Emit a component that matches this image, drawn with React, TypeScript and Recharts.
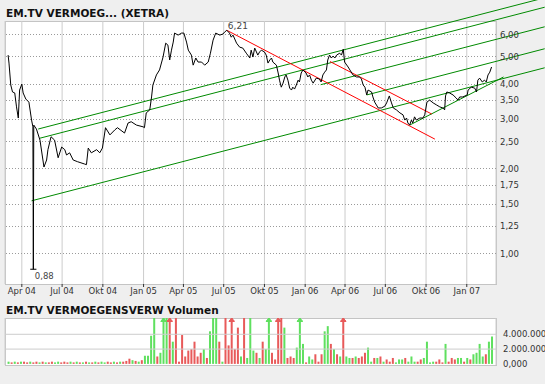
import React from 'react'
import { ComposedChart, Line, Bar, XAxis, YAxis, CartesianGrid, ReferenceLine, ReferenceDot } from 'recharts'

// closing prices, EM.TV (XETRA)
const closeDates = [
  '2004-03-01','2004-03-03','2004-03-07','2004-03-11','2004-03-16','2004-03-20','2004-03-24','2004-03-27','2004-04-01','2004-04-04',
  '2004-04-10','2004-04-17','2004-04-23','2004-04-26','2004-04-27','2004-04-28','2004-05-04','2004-05-12','2004-05-21','2004-05-27',
  '2004-05-30','2004-06-06','2004-06-14','2004-06-22','2004-06-30','2004-07-07','2004-07-11','2004-07-18','2004-07-26','2004-08-05',
  '2004-08-21','2004-08-25','2004-08-29','2004-09-05','2004-09-17','2004-09-24','2004-09-30','2004-10-07','2004-10-17','2004-10-28',
  '2004-11-03','2004-11-19','2004-11-27','2004-12-04','2004-12-16','2004-12-31','2005-01-03','2005-01-07','2005-01-15','2005-01-19',
  '2005-01-22','2005-01-30','2005-02-06','2005-02-14','2005-02-20','2005-02-25','2005-03-01','2005-03-05','2005-03-09','2005-03-12',
  '2005-03-20','2005-03-28','2005-04-02','2005-04-08','2005-04-12','2005-04-19','2005-04-23','2005-04-29','2005-05-04','2005-05-12',
  '2005-05-19','2005-05-27','2005-06-01','2005-06-07','2005-06-13','2005-06-22','2005-06-29','2005-07-03','2005-07-08','2005-07-14',
  '2005-07-18','2005-07-22','2005-07-30','2005-08-06','2005-08-13','2005-08-21','2005-08-29','2005-09-01','2005-09-05','2005-09-09',
  '2005-09-16','2005-09-20','2005-09-24','2005-10-01','2005-10-05','2005-10-09','2005-10-13','2005-10-17','2005-10-20','2005-10-28',
  '2005-11-01','2005-11-04','2005-11-08','2005-11-12','2005-11-16','2005-11-19','2005-11-23','2005-11-27','2005-12-01','2005-12-04',
  '2005-12-08','2005-12-12','2005-12-16','2005-12-19','2005-12-23','2005-12-27','2006-01-03','2006-01-07','2006-01-11','2006-01-15',
  '2006-01-19','2006-01-26','2006-02-02','2006-02-06','2006-02-10','2006-02-14','2006-02-18','2006-02-21','2006-02-25','2006-03-01',
  '2006-03-05','2006-03-09','2006-03-13','2006-03-20','2006-03-24','2006-03-28','2006-03-31','2006-04-08','2006-04-12','2006-04-19',
  '2006-04-27','2006-05-04','2006-05-08','2006-05-12','2006-05-16','2006-05-20','2006-05-23','2006-05-31','2006-06-03','2006-06-07',
  '2006-06-11','2006-06-15','2006-06-22','2006-06-30','2006-07-04','2006-07-10','2006-07-15','2006-07-19','2006-07-26','2006-08-03',
  '2006-08-10','2006-08-14','2006-08-18','2006-08-21','2006-08-25','2006-08-29','2006-09-01','2006-09-05','2006-09-09','2006-09-17',
  '2006-09-24','2006-09-28','2006-10-03','2006-10-09','2006-10-17','2006-10-25','2006-11-01','2006-11-08','2006-11-12','2006-11-14',
  '2006-11-17','2006-11-23','2006-12-01','2006-12-08','2006-12-12','2006-12-16','2006-12-23','2007-01-02','2007-01-04','2007-01-11',
  '2007-01-19','2007-01-23','2007-01-26','2007-01-30','2007-02-05','2007-02-10','2007-02-14','2007-02-18','2007-02-22','2007-02-26',
]
const closes = [
  5.07,4.75,3.97,3.75,3.72,3.32,3.03,3.81,4.00,3.72,
  3.54,3.45,2.98,2.82,0.88,2.86,2.77,2.53,2.03,2.15,
  2.34,2.60,2.53,2.19,2.39,2.34,2.24,2.28,2.15,2.12,
  2.08,2.07,2.37,2.28,2.34,2.28,2.37,2.80,2.64,2.75,
  2.80,2.68,2.91,2.94,2.86,2.82,2.80,3.16,3.24,3.60,
  3.97,4.31,4.49,4.99,5.59,5.50,4.87,5.28,5.64,6.07,
  5.97,6.07,6.07,5.64,5.28,5.07,4.67,4.95,4.79,4.79,
  4.67,4.79,5.15,5.73,6.07,5.97,6.02,6.12,6.21,6.07,
  5.87,5.97,5.59,5.41,5.37,5.15,4.95,5.28,4.99,5.37,
  5.07,5.20,5.28,5.20,5.07,4.75,4.87,4.95,4.79,4.67,
  4.38,4.13,3.90,4.03,4.24,4.31,4.13,3.87,3.81,3.90,
  3.84,3.97,4.13,4.07,4.38,4.49,4.38,4.24,4.31,4.13,
  4.03,4.20,4.17,4.07,4.31,4.41,4.49,4.87,5.07,4.95,
  5.03,4.95,5.07,5.15,5.07,5.32,4.79,4.60,4.49,4.31,
  4.24,4.24,4.17,3.97,3.90,3.66,3.81,3.75,3.60,3.45,
  3.37,3.29,3.29,3.34,3.43,3.63,3.43,3.29,3.24,3.16,
  3.11,2.98,3.03,2.91,2.86,2.98,2.91,3.06,2.98,3.03,
  3.03,3.11,3.45,3.51,3.43,3.37,3.32,3.29,3.24,3.63,
  3.75,3.72,3.66,3.57,3.51,3.60,3.60,3.66,3.81,3.90,
  3.87,3.75,4.13,4.20,4.07,4.13,4.07,4.31,4.41,4.60,
]

const high = { date: '2005-07-08', value: 6.21, label: '6,21' }
const low = { date: '2004-04-27', value: 0.88, label: '0,88' }

// weekly volume (Mio. Stueck), week starting volumeStart; 1 = up week (green)
const volumeStart = '2004-03-01'
const volumes = [
  0.3,0.2,0.3,0.2,0.3,0.3,0.2,0.3,0.2,0.3,
  0.2,0.3,0.2,0.2,0.3,0.2,0.3,0.2,0.3,0.2,
  0.3,0.2,0.3,0.2,0.2,0.3,0.2,0.2,0.3,0.2,
  0.3,0.2,0.3,0.2,0.3,0.2,0.3,0.3,0.4,0.7,
  0.5,0.4,0.3,0.5,1.1,1.1,3.8,6.2,1.0,1.5,
  7,6.2,7,3.0,6.2,0.3,3.9,1.0,1.8,2.0,
  3.0,1.0,1.5,2.0,0.8,4.4,6.2,6.2,3.0,0.3,
  6.2,2.5,7,2.0,4.9,1.0,6.2,0.8,6.2,1.8,
  1.5,0.8,3.0,2.0,7,1.5,0.6,7,6.2,4.9,
  0.8,1.0,0.8,2.2,7,2.7,0.2,1.0,0.6,1.3,
  0.3,1.3,4.4,5.1,2.7,2.0,1.3,1.0,7,1.0,
  0.8,0.8,1.0,0.8,1.0,1.5,2.2,0.3,0.8,0.8,
  1.0,0.3,0.6,0.3,0.8,0.2,0.6,0.6,0.8,0.3,
  1.0,0.3,0.3,0.6,0.8,3.0,0.2,0.3,0.3,0.6,
  0.2,2.7,0.3,0.8,0.6,0.8,0.8,0.3,0.8,0.6,
  1.3,1.5,2.7,1.0,1.3,3.0,3.7,
]
const volumeUp = [
  1,0,1,0,1,0,0,1,0,0,
  1,0,1,0,0,1,1,0,0,0,
  1,0,1,0,1,0,1,0,1,0,
  1,1,0,0,1,0,1,0,0,0,
  1,0,1,0,1,1,1,1,0,1,
  1,1,0,1,0,0,0,0,0,0,
  0,0,0,1,0,1,1,1,0,1,
  0,0,0,0,0,1,0,1,1,1,
  0,1,0,1,1,0,0,0,0,1,
  0,0,0,1,1,1,0,1,1,0,
  0,0,1,1,0,1,0,1,0,1,
  1,0,1,0,0,0,1,1,0,1,
  0,1,0,0,0,1,1,1,0,1,
  1,1,0,0,1,1,1,1,0,0,
  0,1,0,0,0,1,1,0,1,0,
  1,1,1,1,0,1,1,
]

// trend lines drawn on the chart: [[date, price], [date, price]]
const greenLines = [
  [['2004-04-23', 1.54], ['2007-06-26', 4.57]],
  [['2004-05-08', 2.77], ['2007-06-26', 8.10]],
  [['2004-05-12', 2.57], ['2007-06-26', 7.50]],
  [['2006-02-05', 3.98], ['2007-06-26', 6.39]],
  [['2006-05-20', 3.66], ['2007-06-26', 5.34]],
  [['2006-08-25', 2.86], ['2007-03-25', 4.24]],
]
const redLines = [
  [['2005-07-08', 6.21], ['2006-10-21', 2.55]],
  [['2006-02-26', 4.81], ['2006-10-14', 3.13]],
]

const tickDates = ['2004-04-01','2004-07-01','2004-10-01','2005-01-01','2005-04-01','2005-07-01','2005-10-01','2006-01-01','2006-04-01','2006-07-01','2006-10-01','2007-01-01']
const tickLabels = ['Apr 04','Jul 04','Okt 04','Jan 05','Apr 05','Jul 05','Okt 05','Jan 06','Apr 06','Jul 06','Okt 06','Jan 07']
const priceTicks = [1, 1.25, 1.5, 1.75, 2, 2.5, 3, 3.5, 4, 5, 6]
const volumeTicks = [0, 2, 4]
const volumeTickLabels = ['0,000', '2.000.000', '4.000.000']
const xRange = ['2004-02-23', '2007-03-08']

const toDay = (s: string) =>
  (Date.UTC(+s.slice(0, 4), +s.slice(5, 7) - 1, +s.slice(8, 10)) - Date.UTC(2004, 0, 1)) / 86400000

const priceData = closeDates.map((d, i) => ({ t: toDay(d), price: closes[i] }))
const volumeData = volumes.map((v, i) => ({ t: toDay(volumeStart) + 7 * i, v, up: volumeUp[i] === 1 }))
const xTicks = tickDates.map(toDay)
const xDomain = xRange.map(toDay)

const FONT = 'DejaVu Sans'
const GREEN = '#5fe05f'
const RED = '#e85a5a'
const VOL_MAX = 6.2
const VOL_TOP = 18

const fmtPrice = (v: number) => v.toFixed(2).replace('.', ',')
const fmtDate = (t: number) => tickLabels[xTicks.indexOf(t)] ?? ''
const fmtVol = (v: number) => volumeTickLabels[volumeTicks.indexOf(v)] ?? ''

const VolBar = (props: any) => {
  const { x, y, width, height, payload } = props
  const color = payload.up ? GREEN : RED
  const top = Math.max(y, VOL_TOP)
  const h = Math.max(y + height - top, 1)
  const cx = x + width / 2
  return (
    <g>
      <rect x={x} y={top} width={width} height={h} fill={color} />
      {payload.v > VOL_MAX && (
        <g stroke={color} fill={color}>
          <path d={`M${cx - 2.5},${top + 3} L${cx},${top} L${cx + 2.5},${top + 3} Z`} />
          <line x1={cx - 3} x2={cx + 3} y1={top + 3.5} y2={top + 3.5} />
        </g>
      )}
    </g>
  )
}

const tickStyle = { fontSize: 8.5, fill: '#333', fontFamily: FONT }

export default function App() {
  return (
    <div style={{ position: 'absolute', left: 0, top: 0, width: 545, height: 384, background: '#efefef', overflow: 'hidden' }}>
      <div style={{ position: 'absolute', left: 5, top: 21, width: 492, height: 264, boxSizing: 'border-box', border: '1px solid #c4c4c4', background: '#fff' }} />
      <div style={{ position: 'absolute', left: 5, top: 318, width: 492, height: 48, boxSizing: 'border-box', border: '1px solid #c4c4c4', background: '#fff' }} />

      <div style={{ position: 'absolute', left: 0, top: 0 }}>
        <ComposedChart width={545} height={300} data={priceData} margin={{ top: 21, right: 0, bottom: 0, left: 5 }}>
          <CartesianGrid horizontal={false} stroke="#cccccc" />
          <XAxis
            type="number"
            dataKey="t"
            domain={xDomain}
            allowDataOverflow
            ticks={xTicks}
            tickFormatter={fmtDate}
            height={16}
            axisLine={false}
            tickLine={{ stroke: '#333' }}
            tickSize={3}
            tickMargin={1}
            tick={tickStyle}
            interval={0}
          />
          <YAxis
            orientation="right"
            scale="log"
            type="number"
            domain={[0.78, 6.7]}
            allowDataOverflow
            ticks={priceTicks}
            tickFormatter={fmtPrice}
            width={49}
            axisLine={false}
            tickLine={false}
            tickSize={0}
            tickMargin={4}
            tick={tickStyle}
            interval={0}
          />
          {priceTicks.map((v) => (
            <ReferenceLine
              key={`h${v}`}
              y={v}
              stroke="#9a9a9a"
              strokeWidth={1}
              strokeDasharray="1 2"
              shapeRendering="crispEdges"
            />
          ))}
          {greenLines.map((seg, i) => (
            <ReferenceLine
              key={`g${i}`}
              segment={seg.map(([d, p]) => ({ x: toDay(d as string), y: p as number }))}
              stroke="#008a00"
              strokeWidth={1}
              ifOverflow="visible"
            />
          ))}
          {redLines.map((seg, i) => (
            <ReferenceLine
              key={`r${i}`}
              segment={seg.map(([d, p]) => ({ x: toDay(d as string), y: p as number }))}
              stroke="#ff0000"
              strokeWidth={1}
              ifOverflow="visible"
            />
          ))}
          <ReferenceLine
            segment={[{ x: toDay(low.date) - 7, y: low.value }, { x: toDay(low.date) + 7, y: low.value }]}
            stroke="#000"
            ifOverflow="visible"
          />
          <Line type="linear" dataKey="price" stroke="#000" strokeWidth={1} dot={false} isAnimationActive={false} />
          <ReferenceDot
            x={toDay(high.date)}
            y={high.value}
            r={1}
            fill="none"
            stroke="none"
            label={(p: any) => (
              <text x={p.viewBox.x + 2} y={p.viewBox.y} fontSize={9} fill="#444" fontFamily={FONT}>{high.label}</text>
            )}
          />
          <ReferenceDot
            x={toDay(low.date)}
            y={low.value}
            r={1}
            fill="none"
            stroke="none"
            label={(p: any) => (
              <text x={p.viewBox.x + 2.5} y={p.viewBox.y + 10.5} fontSize={8.5} fill="#444" fontFamily={FONT}>{low.label}</text>
            )}
          />
        </ComposedChart>
      </div>

      <div style={{ position: 'absolute', left: 0, top: 300 }}>
        <ComposedChart width={545} height={84} data={volumeData} margin={{ top: VOL_TOP, right: 0, bottom: 18, left: 5 }}>
          <CartesianGrid horizontal={false} stroke="#cccccc" />
          <XAxis
            type="number"
            dataKey="t"
            domain={xDomain}
            allowDataOverflow
            ticks={xTicks}
            height={1}
            axisLine={false}
            tickLine={false}
            tick={false}
            interval={0}
          />
          <YAxis
            orientation="right"
            type="number"
            domain={[-0.15, VOL_MAX]}
            allowDataOverflow
            ticks={volumeTicks}
            tickFormatter={fmtVol}
            width={49}
            axisLine={false}
            tickLine={false}
            tickSize={0}
            tickMargin={7}
            tick={tickStyle}
            interval={0}
          />
          <ReferenceLine y={2} stroke="#cccccc" />
          <ReferenceLine y={4} stroke="#cccccc" />
          <Bar dataKey="v" barSize={2} shape={(p: any) => <VolBar {...p} />} isAnimationActive={false} />
        </ComposedChart>
      </div>

      <svg width={545} height={384} style={{ position: 'absolute', left: 0, top: 0, pointerEvents: 'none' }}>
        <text x={6} y={17} fontSize={10.5} fontWeight="bold" fontFamily={FONT} fill="#111">EM.TV VERMOEG... (XETRA)</text>
        <text x={6} y={314} fontSize={10.5} fontWeight="bold" fontFamily={FONT} fill="#111">EM.TV VERMOEGENSVERW Volumen</text>
      </svg>
    </div>
  )
}
